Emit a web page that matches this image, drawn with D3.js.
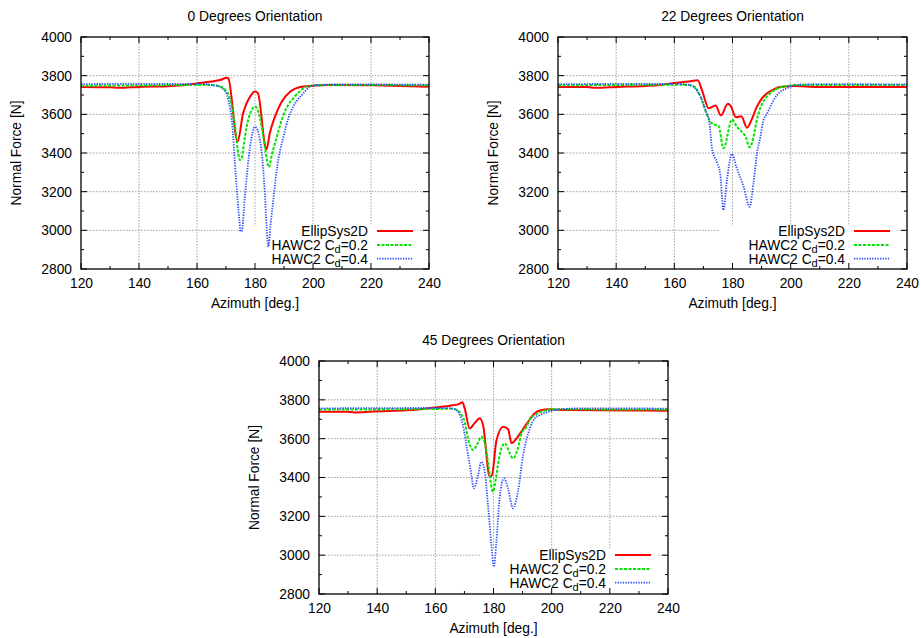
<!DOCTYPE html>
<html>
<head>
<meta charset="utf-8">
<script src="https://cdn.jsdelivr.net/npm/d3@7"></script>
<style>
  html, body { margin: 0; padding: 0; background: #fff; }
  svg { display: block; font-family: "Liberation Sans", Arial, sans-serif; }
</style>
</head>
<body>
<svg id="chart" width="921" height="638"></svg>
<script>
// ---------- data (azimuth [deg], normal force [N]) ----------
const titles = ["0 Degrees Orientation", "22 Degrees Orientation", "45 Degrees Orientation"];
const seriesNames = ["EllipSys2D", "HAWC2 C", "HAWC2 C"];
const seriesSub = ["", "d", "d"];
const seriesSuffix = ["", "=0.2", "=0.4"];
const xTicks = [120, 140, 160, 180, 200, 220, 240];
const yTicks = [2800, 3000, 3200, 3400, 3600, 3800, 4000];

const ellip0 = [[120,3742],[130,3740],[133,3737],[140,3742],[150,3745],[155,3750],[160,3760],[165,3770],[168,3778],[170.3,3789],[170.8,3786],[174.0,3459],[175.9,3605],[177.1,3657],[178.3,3691],[180.0,3718],[181.0,3710],[183.7,3425],[184.0,3419],[185.1,3502],[186.9,3588],[189.2,3665],[192.1,3717],[196.2,3743],[200,3748],[205,3752],[220,3750],[230,3747],[240,3743]];
const hawcA0 = [[120,3748],[140,3750],[160,3752],[164,3752],[166,3750],[167.9,3745],[169.5,3730],[170.8,3705],[172,3640],[173.1,3536],[174,3420],[174.8,3364],[175.5,3380],[176.2,3450],[177.1,3536],[178.5,3610],[180,3640],[181,3620],[182.3,3536],[183.5,3420],[184.8,3326],[185.8,3390],[187.5,3484],[189.8,3597],[191.5,3650],[193.2,3683],[195.5,3720],[197.8,3743],[200,3750],[210,3752],[240,3750]];
const hawcB0 = [[120,3756],[140,3758],[160,3758],[163,3757],[165.6,3750],[167.5,3745],[169.7,3720],[171,3660],[172,3571],[173.4,3278],[174.6,3054],[175.0,2995],[175.4,2995],[176.6,3191],[178.3,3433],[180,3536],[181.7,3467],[183.4,3191],[184.0,3020],[184.6,2915],[185.3,3020],[186.3,3157],[187.5,3312],[189.8,3484],[191.5,3580],[193.2,3640],[196.7,3709],[199,3743],[202,3752],[210,3755],[240,3753]];

const ellip22 = [[120,3742],[130,3741],[133,3737],[140,3742],[150,3747],[155,3752],[160,3762],[165,3770],[168,3776],[169.5,3725],[171.8,3631],[174.2,3646],[176,3594],[178.4,3655],[179.3,3645],[181.2,3585],[183,3590],[185,3531],[186.5,3570],[188.4,3640],[190,3680],[191.9,3709],[194,3728],[196.4,3741],[201,3746],[205,3744],[210,3742],[240,3742]];
const hawcA22 = [[120,3750],[160,3753],[164,3752],[166.6,3746],[169,3691],[171.2,3600],[172.5,3560],[173.5,3548],[175.2,3540],[176.9,3424],[177.5,3440],[178.1,3480],[179.8,3573],[181.5,3536],[183.3,3508],[184.4,3488],[185.9,3430],[187.3,3490],[188.2,3560],[189.3,3622],[191.3,3682],[193,3709],[194.7,3728],[198.7,3746],[202,3752],[240,3752]];
const hawcB22 = [[120,3756],[160,3758],[164,3755],[166.6,3742],[169,3691],[170.7,3622],[172,3560],[173,3420],[174.7,3350],[175.8,3290],[176.9,3105],[178.1,3260],[179.8,3395],[181.3,3329],[183.8,3226],[185.9,3122],[187.2,3243],[188.4,3398],[189.6,3484],[190.5,3560],[191.9,3605],[195.3,3700],[198.7,3735],[202,3752],[210,3756],[240,3755]];

const ellip45 = [[120,3739],[130,3738],[133,3735],[140,3741],[150,3746],[155,3752],[160,3760],[165,3770],[168,3778],[169.3,3787],[170.1,3756],[171.8,3653],[173.5,3680],[175.3,3705],[176.4,3670],[178.7,3404],[179.5,3413],[181,3590],[183.3,3662],[185,3650],[186.2,3576],[187.3,3590],[189.6,3636],[192.5,3700],[194.2,3731],[196,3745],[199.4,3751],[205,3747],[240,3744]];
const hawcA45 = [[120,3750],[160,3753],[165,3754],[166.7,3752],[169,3722],[170.2,3680],[171.2,3602],[173,3542],[174.5,3575],[175.8,3610],[176.9,3585],[178.1,3481],[179.8,3327],[181,3413],[182.1,3516],[183.9,3576],[185.6,3524],[186.7,3499],[188.4,3550],[189.6,3627],[191.3,3660],[192.5,3700],[194.2,3722],[196.5,3739],[200.5,3751],[240,3750]];
const hawcB45 = [[120,3756],[160,3758],[165,3757],[166.7,3752],[168.4,3722],[169.5,3670],[170.7,3567],[172.4,3413],[173.2,3344],[174.7,3413],[175.8,3481],[177,3430],[178.1,3258],[179.3,3052],[180.1,2940],[181,3069],[182.1,3292],[183.6,3395],[185,3344],[186.7,3241],[188.4,3327],[190.2,3516],[192.5,3653],[194.2,3705],[196,3722],[199.4,3741],[202.8,3751],[210,3756],[240,3755]];

const panelData = [[ellip0, hawcA0, hawcB0], [ellip22, hawcA22, hawcB22], [ellip45, hawcA45, hawcB45]];

// ---------- layout & style ----------
const panels = [
  {left: 81,  top: 37,  width: 348, height: 232},
  {left: 558, top: 37,  width: 349, height: 232},
  {left: 319, top: 361, width: 349, height: 233}
];
const colors = ["#ff0000", "#00e600", "#2a4bff"];
const dashes = [null, "3,1.5", "1.3,1.3"];
const widths = [2, 2, 1.8];
const FS = 13.8;
const FONT = "Liberation Sans, Arial, sans-serif";

const svg = d3.select("#chart");

panels.forEach((p, i) => {
  const g = svg.append("g").attr("transform", `translate(${p.left},${p.top})`);
  const x = d3.scaleLinear().domain([120, 240]).range([0, p.width]);
  const y = d3.scaleLinear().domain([2800, 4000]).range([p.height, 0]);

  // grid
  g.append("g").selectAll("line").data(xTicks.slice(1, -1)).join("line")
    .attr("x1", d => x(d)).attr("x2", d => x(d)).attr("y1", 0).attr("y2", p.height)
    .attr("stroke", "#a0a0a0").attr("stroke-width", 1).attr("stroke-dasharray", "1.5,1.5");
  g.append("g").selectAll("line").data(yTicks.slice(1, -1)).join("line")
    .attr("y1", d => y(d)).attr("y2", d => y(d)).attr("x1", 0).attr("x2", p.width)
    .attr("stroke", "#a0a0a0").attr("stroke-width", 1).attr("stroke-dasharray", "1.5,1.5");

  // legend background (opaque key)
  g.append("rect").attr("x", 161).attr("y", 188)
    .attr("width", p.width - 172).attr("height", p.height - 189).attr("fill", "#fff");

  // ticks (inward, mirrored)
  const tickG = g.append("g");
  d3.range(120, 241, 10).forEach(v => {
    const len = v % 20 === 0 ? 6 : 3;
    tickG.append("line").attr("x1", x(v)).attr("x2", x(v)).attr("y1", p.height).attr("y2", p.height - len).attr("stroke", "#000");
    tickG.append("line").attr("x1", x(v)).attr("x2", x(v)).attr("y1", 0).attr("y2", len).attr("stroke", "#000");
  });
  d3.range(2800, 4001, 100).forEach(v => {
    const len = v % 200 === 0 ? 6 : 3;
    tickG.append("line").attr("y1", y(v)).attr("y2", y(v)).attr("x1", 0).attr("x2", len).attr("stroke", "#000");
    tickG.append("line").attr("y1", y(v)).attr("y2", y(v)).attr("x1", p.width).attr("x2", p.width - len).attr("stroke", "#000");
  });

  // tick labels via d3 axes
  const ax = g.append("g").attr("transform", `translate(0,${p.height})`)
    .call(d3.axisBottom(x).tickValues(xTicks).tickSize(0).tickPadding(9).tickFormat(d3.format("d")));
  ax.select(".domain").remove();
  ax.selectAll("text").attr("font-size", FS).attr("font-family", FONT).attr("fill", "#000");
  const ay = g.append("g")
    .call(d3.axisLeft(y).tickValues(yTicks).tickSize(0).tickPadding(9).tickFormat(d3.format("d")));
  ay.select(".domain").remove();
  ay.selectAll("text").attr("font-size", FS).attr("font-family", FONT).attr("fill", "#000");

  // curves
  const line = d3.line().x(d => x(d[0])).y(d => y(d[1])).curve(d3.curveMonotoneX);
  const clipId = "clip" + i;
  g.append("clipPath").attr("id", clipId).append("rect").attr("width", p.width).attr("height", p.height);
  panelData[i].forEach((s, k) => {
    g.append("path").datum(s).attr("d", line).attr("fill", "none")
      .attr("clip-path", `url(#${clipId})`)
      .attr("stroke", colors[k]).attr("stroke-width", widths[k])
      .attr("stroke-dasharray", dashes[k]).attr("stroke-linejoin", "round");
  });

  // legend
  const rowY = [194, 208, 221.7];
  seriesNames.forEach((n, k) => {
    const t = g.append("text").attr("x", 287).attr("y", rowY[k] + 4.8)
      .attr("text-anchor", "end").attr("font-size", FS).attr("fill", "#000");
    t.append("tspan").text(n);
    if (seriesSub[k]) {
      t.append("tspan").attr("font-size", FS * 0.8).attr("dy", 3.5).text(seriesSub[k]);
      t.append("tspan").attr("dy", -3.5).text(seriesSuffix[k]);
    }
    g.append("line").attr("x1", 296).attr("x2", 332).attr("y1", rowY[k]).attr("y2", rowY[k])
      .attr("stroke", colors[k]).attr("stroke-width", widths[k]).attr("stroke-dasharray", dashes[k]);
  });

  // frame
  g.append("rect").attr("width", p.width).attr("height", p.height)
    .attr("fill", "none").attr("stroke", "#000").attr("stroke-width", 1.3);

  // title & axis labels
  g.append("text").attr("x", p.width / 2).attr("y", -16).attr("text-anchor", "middle")
    .attr("font-size", FS).text(titles[i]);
  g.append("text").attr("x", p.width / 2).attr("y", p.height + 39).attr("text-anchor", "middle")
    .attr("font-size", FS).text("Azimuth [deg.]");
  g.append("text").attr("transform", `translate(-60,${p.height / 2}) rotate(-90)`)
    .attr("text-anchor", "middle").attr("font-size", FS).text("Normal Force [N]");
});
</script>
</body>
</html>
